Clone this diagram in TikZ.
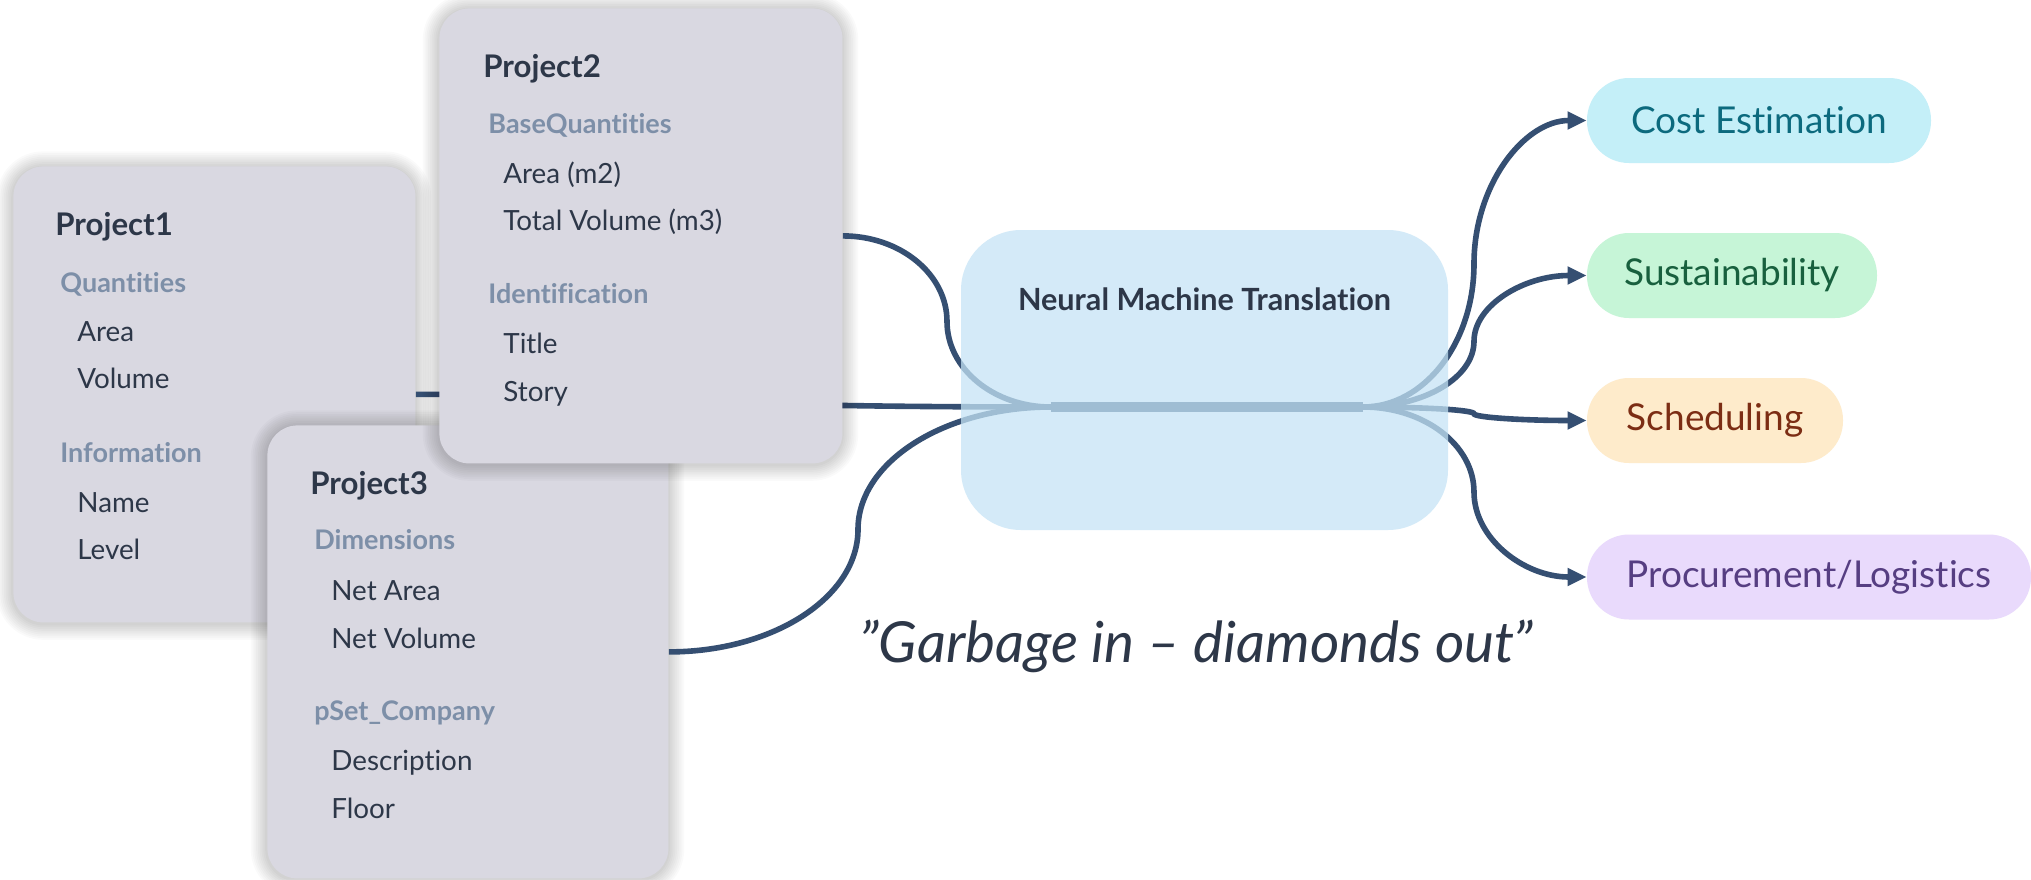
\documentclass[tikz,border=0pt]{standalone}
\usepackage{fontspec}
\setmainfont[Ligatures=NoCommon]{Lato}
\usetikzlibrary{arrows.meta,calc}

\definecolor{ink}{RGB}{45,55,72}
\definecolor{hdrcol}{RGB}{125,143,168}
\definecolor{cardfill}{RGB}{217,216,225}
\definecolor{wirecol}{RGB}{53,79,114}
\definecolor{nmtfill}{RGB}{197,228,246}
\definecolor{costfill}{RGB}{196,239,248}
\definecolor{costtext}{RGB}{12,106,126}
\definecolor{susfill}{RGB}{198,245,215}
\definecolor{sustext}{RGB}{24,96,62}
\definecolor{schfill}{RGB}{254,235,203}
\definecolor{schtext}{RGB}{124,45,20}
\definecolor{profill}{RGB}{233,218,252}
\definecolor{protext}{RGB}{86,62,130}

\tikzset{
  card/.style={fill=cardfill, rounded corners=15pt, anchor=north west, inner sep=0pt},
  ttl/.style={anchor=base west, inner sep=0pt, text=ink, font=\fontsize{15.6}{18}\selectfont\bfseries},
  sechead/.style={anchor=base west, inner sep=0pt, text=hdrcol, font=\fontsize{13.5}{16}\selectfont\bfseries},
  itm/.style={anchor=base west, inner sep=0pt, text=ink, font=\fontsize{13.9}{16}\selectfont},
  wire/.style={draw=wirecol, line width=2.8pt},
  arrowwire/.style={wire, -{Triangle[length=9.5pt,width=8.5pt]}},
  pill/.style={rounded corners=21pt, minimum height=42.5pt, inner sep=0pt, font=\fontsize{18.5}{22}\selectfont},
}

% card with a soft shadow: name, left, top, width, height (in picture units)
\newcommand\cardbox[5]{%
  \foreach \i [evaluate=\i as \d using 0.9*\i, evaluate=\i as \r using 15+0.9*\i] in {1,...,9}{
    \fill[black, opacity=0.02, rounded corners=\r pt]
      ($(#2,#3)+(-\d pt,\d pt-0.8pt)$) rectangle ($(#2+#4,#3+#5)+(\d pt,-\d pt-0.8pt)$);}
  \node[card, minimum width=#4*0.5pt, minimum height=#5*0.5pt] (#1) at (#2,#3) {};}

% smooth S-shaped link: horizontal at both ends, vertical at the given x
\newcommand\linkpath[4]{%
  \draw[#1] let \p1=(#2), \p2=(#3), \p4=(#4,0) in
    (#2) .. controls ({\x1+0.552*(\x4-\x1)},\y1) and (\x4,{0.5*(\y1+\y2)+0.276*(\y1-\y2)})
    .. (\x4,{0.5*(\y1+\y2)})
    .. controls (\x4,{0.5*(\y1+\y2)+0.276*(\y2-\y1)}) and ({\x2-0.552*(\x2-\x4)},\y2) .. (#3);}

\begin{document}
\begin{tikzpicture}[x=0.5pt,y=-0.5pt]
\fill[white] (0,0) rectangle (2031,879);
\useasboundingbox (0,0) rectangle (2031,879);

% ---- Project1
\cardbox{p1}{13}{166}{402}{456}
\node[ttl] (p1t) at (55,235) {Project1};
\node[sechead] (p1h1) at (60,292) {Quantities};
\node[itm] (p1a) at (77,341) {Area};
\node[itm] (p1b) at (77,388) {Volume};
\node[sechead] (p1h2) at (60,462) {Information};
\node[itm] (p1c) at (77,512) {Name};
\node[itm] (p1d) at (77,559) {Level};

\coordinate (inL) at (1051,407);
\coordinate (inR) at (1363,407);

\linkpath{wire}{p1.east}{inL}{733}

% ---- Project3
\cardbox{p3}{267}{425}{401}{453}
\node[ttl] (p3t) at (310,494) {Project3};
\node[sechead] (p3h1) at (314,549) {Dimensions};
\node[itm] (p3a) at (331,600) {Net Area};
\node[itm] (p3b) at (331,648) {Net Volume};
\node[sechead] (p3h2) at (314,720) {pSet\_Company};
\node[itm] (p3c) at (331,770) {Description};
\node[itm] (p3d) at (331,818) {Floor};

% ---- Project2
\cardbox{p2}{439}{8}{403}{455}
\node[ttl] (p2t) at (483,77) {Project2};
\node[sechead] (p2h1) at (488,133) {BaseQuantities};
\node[itm] (p2a) at (503,183) {Area (m2)};
\node[itm] (p2b) at (503,230) {Total Volume (m3)};
\node[sechead] (p2h2) at (488,303) {Identification};
\node[itm] (p2c) at (503,353) {Title};
\node[itm] (p2d) at (503,401) {Story};

\linkpath{wire}{p2.east}{inL}{947}
\linkpath{wire}{p3.east}{inL}{858}

% ---- outputs
\node[pill, fill=costfill, text=costtext, minimum width=172pt] (cost) at (1759,120.5) {Cost Estimation};
\node[pill, fill=susfill, text=sustext, minimum width=145pt] (sus) at (1732,275.5) {Sustainability};
\node[pill, fill=schfill, text=schtext, minimum width=128pt] (sch) at (1715,420.5) {Scheduling};
\node[pill, fill=profill, text=protext, minimum width=222pt] (pro) at (1809,577) {Procurement/Logistics};

\draw[wire, line width=5pt] (inL) -- (inR);
\linkpath{arrowwire}{inR}{cost.west}{1474}
\linkpath{arrowwire}{inR}{sus.west}{1474}
\linkpath{arrowwire}{inR}{sch.west}{1474}
\linkpath{arrowwire}{inR}{pro.west}{1474}

% ---- translation block, laid over the wires
\node[fill=nmtfill, fill opacity=0.74, rounded corners=30pt, minimum width=243.5pt,
      minimum height=150pt, inner sep=0pt] (nmt) at (1204.5,380) {};
\node[anchor=base, inner sep=0pt, text=ink, font=\fontsize{15.3}{18}\selectfont\bfseries] (nmtlabel) at (1204.5,310) {Neural Machine Translation};

\node[anchor=base, inner sep=0pt, text=ink, font=\fontsize{28.3}{33}\selectfont\itshape] (motto) at (1196.5,662) {”Garbage in – diamonds out”};
\end{tikzpicture}
\end{document}
